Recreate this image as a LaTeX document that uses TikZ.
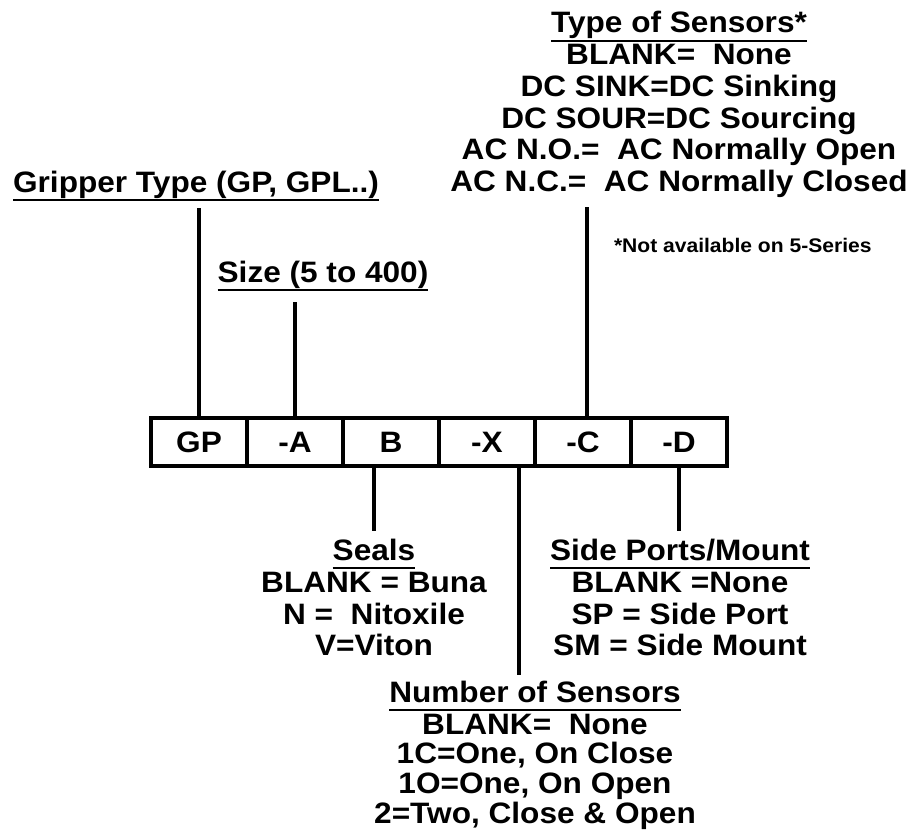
\documentclass[tikz,border=0pt]{standalone}
\usepackage{fontspec}
\setmainfont{Liberation Sans}[FakeStretch=1.07]
\usetikzlibrary{positioning}
\newcommand\mainsize{\fontsize{21pt}{22.6pt}\selectfont\bfseries}
\newcommand\tightsize{\fontsize{21pt}{21.1pt}\selectfont\bfseries}
\newcommand\remarksize{\fontsize{14pt}{16pt}\selectfont\bfseries}
\tikzset{
  cell/.style = {rectangle, draw, line width=0.1cm, minimum width=2.4cm, minimum height=1.2cm, inner sep=0, outer sep=0, font=\mainsize},
  conn/.style = {line width=0.1cm},
  heading/.style = {anchor=base, inner sep=0, outer sep=0, text depth=0.2cm, font=\mainsize},
  choices/.style = {align=center, inner sep=0, outer sep=0, font=\mainsize},
  remark/.style = {inner sep=0, outer sep=0, font=\remarksize},
  uline/.style = {line width=0.06cm}
}

\begin{document}
\begin{tikzpicture}[x=0.025cm, y=-0.025cm]
  \useasboundingbox (0,0) rectangle (913,840);
  % part number boxes
  \foreach \n/\t [count=\i] in {gp/GP,a/-A,b/B,x/-X,c/-C,d/-D} {
    \node[cell] (\n) at ({199+(\i-1)*96},442) {\t};
  }
  % headings
  \node[heading] (grip) at (196,192) {Gripper Type (GP, GPL..)};
  \node[heading] (size) at (323,282) {Size (5 to 400)};
  \node[heading] (tsens) at (679,33) {Type of Sensors*};
  \node[heading] (seals) at (374,560) {Seals};
  \node[heading] (side) at (680,560) {Side Ports/Mount};
  \node[heading] (nsens) at (535,702) {Number of Sensors};
  \foreach \h in {grip,size,tsens,seals,side,nsens}
    \draw[uline] (\h.south west) -- (\h.south east);
  % option lists
  \node[choices, below=0.08cm of tsens] (tlist) {BLANK= ~None\\DC SINK=DC Sinking\\DC SOUR=DC Sourcing\\AC N.O.= ~AC Normally Open\\AC N.C.= ~AC Normally Closed};
  \node[choices, below=0.1cm of seals] (slist) {BLANK = Buna\\N = ~Nitoxile\\V=Viton};
  \node[choices, below=0.1cm of side] (plist) {BLANK =None\\SP = Side Port\\SM = Side Mount};
  \node[choices, below=0.1cm of nsens, font=\tightsize] (nlist) {BLANK= ~None\\1C=One, On Close\\1O=One, On Open\\2=Two, Close \& Open};
  \node[remark, anchor=base west] (avail) at (614,252) {*Not available on 5-Series};
  % connectors
  \draw[conn, shorten >=0.2cm] (gp.north) -- (gp.north |- grip.south);
  \draw[conn, shorten >=0.3cm] (a.north) -- (a.north |- size.south);
  \coordinate (cdrop) at ([xshift=0.1cm]c.north);
  \draw[conn, shorten >=0.23cm] (cdrop) -- (cdrop |- tlist.south);
  \draw[conn, shorten >=0.2cm] (b.south -| seals.north) -- (seals.north);
  \coordinate (xdrop) at ([xshift=0.8cm]x.south);
  \draw[conn, shorten >=0.14cm] (xdrop) -- (xdrop |- nsens.north);
  \draw[conn, shorten >=0.2cm] (d.south) -- (d.south |- side.north);
\end{tikzpicture}
\end{document}
